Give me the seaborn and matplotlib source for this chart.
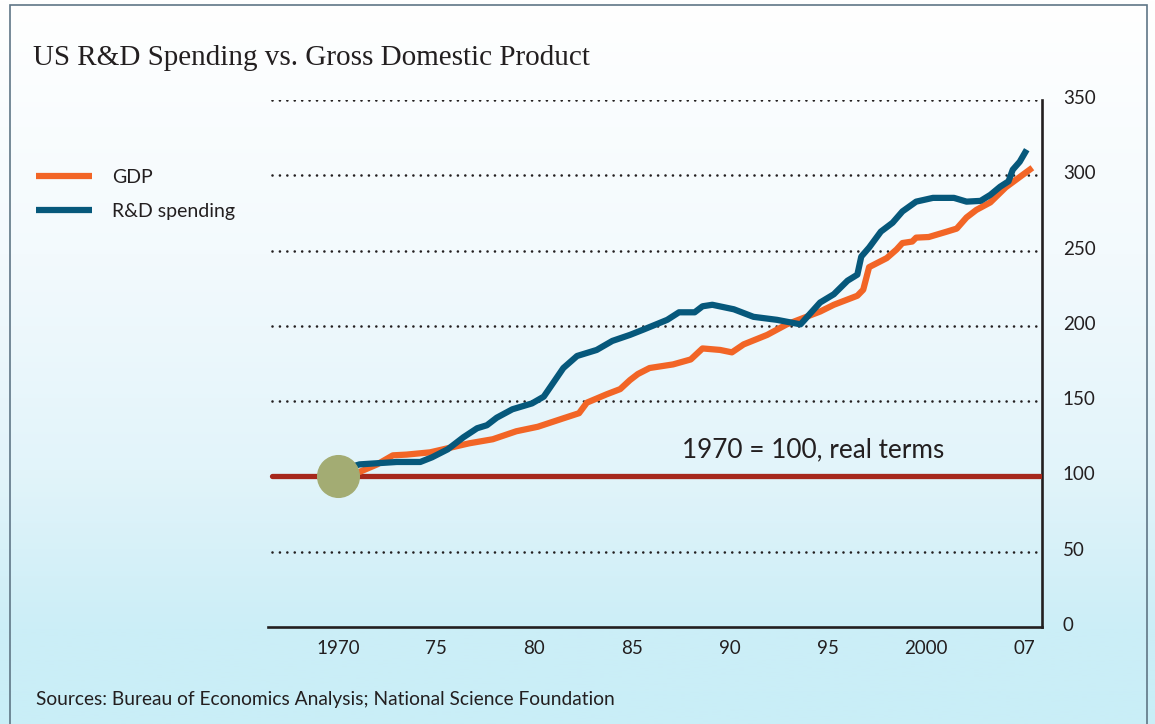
import matplotlib
matplotlib.use("Agg")
import matplotlib.pyplot as plt
import matplotlib.transforms as mtransforms
from matplotlib.colors import LinearSegmentedColormap
from matplotlib.patches import Rectangle
import seaborn as sns
import numpy as np
import pandas as pd

# --- data (index, 1970 = 100, real terms) ---
gdp_years = [1970.0, 1970.6, 1971.1, 1972.0, 1972.8, 1973.5, 1974.7, 1975.7, 1976.7, 1977.9,
             1979.1, 1980.2, 1981.5, 1982.3, 1982.7, 1983.7, 1984.4, 1984.9, 1985.3, 1985.9,
             1987.1, 1988.0, 1988.6, 1989.5, 1990.1, 1990.7, 1991.9, 1992.9, 1993.9, 1994.6,
             1995.3, 1996.0, 1996.5, 1996.8, 1997.1, 1998.0, 1998.5, 1998.8, 1999.3, 1999.5,
             2000.2, 2001.5, 2002.2, 2002.9, 2003.6, 2004.6, 2005.7, 2007.6]
gdp_values = [100, 100.5, 103, 108, 114, 114.5, 116, 119, 122, 124.7,
              130, 133, 138.6, 142, 149, 154.5, 158, 164, 168, 172,
              174.4, 177.7, 185, 184, 182.4, 187.7, 194, 201, 206, 209.5,
              214, 217.5, 220, 224, 239, 245, 250.7, 255, 256, 258.6,
              259, 262.6, 264.6, 272, 277, 282, 292, 305]

rd_years = [1970.0, 1970.6, 1971.1, 1973.0, 1974.2, 1974.8, 1975.6, 1976.4, 1977.1, 1977.6,
            1978.1, 1978.9, 1979.9, 1980.5, 1981.5, 1982.2, 1983.2, 1984.0, 1984.9, 1985.6,
            1986.8, 1987.4, 1988.2, 1988.6, 1989.1, 1990.2, 1991.2, 1992.4, 1993.6, 1994.6,
            1995.3, 1996.0, 1996.5, 1996.7, 1997.1, 1997.7, 1998.3, 1998.8, 1999.5, 2000.5,
            2002.0, 2002.9, 2003.9, 2004.6, 2005.3, 2005.9, 2006.2, 2006.7, 2007.2]
rd_values = [100, 106, 108, 109.6, 109.6, 112.7, 118, 126, 132, 134,
             139, 144.6, 148.5, 153, 172, 180, 184, 190, 194, 197.6,
             204, 209, 209, 213, 214, 211, 206, 204, 201, 215.5,
             221, 230, 234, 246, 252, 262.6, 268.5, 276, 282.5, 285,
             285, 282.5, 283, 287, 292.4, 296, 303.7, 309, 317]

tick_years = [1970, 1975, 1980, 1985, 1990, 1995, 2000, 2007]
tick_labels = ["1970", "75", "80", "85", "90", "95", "2000", "07"]
y_ticks = [0, 50, 100, 150, 200, 250, 300, 350]

base_year, base_value = 1970, 100

gdp = pd.DataFrame({"year": gdp_years, "value": gdp_values})
rd = pd.DataFrame({"year": rd_years, "value": rd_values})

ORANGE = "#f26526"
BLUE = "#06587b"
RED = "#a5271b"
OLIVE = "#a3ac73"
INK = "#231f20"

sns.set_theme(style="white")
plt.rcParams["font.family"] = ["Lato", "DejaVu Sans"]

fig = plt.figure(figsize=(11.55, 7.24), dpi=100)

# background gradient + frame
bg = fig.add_axes([0, 0, 1, 1], zorder=-10)
cmap = LinearSegmentedColormap.from_list(
    "bg", [(0, "#ffffff"), (0.35, "#f3fafd"), (0.65, "#e2f4fa"), (0.87, "#cceef7"), (1, "#c9eef7")])
bg.imshow(np.linspace(0, 1, 256).reshape(-1, 1), aspect="auto", cmap=cmap,
          extent=[0, 1, 0, 1], origin="upper")
bg.set_axis_off()
fig.add_artist(Rectangle((10 / 1155, -0.05), 1137 / 1155, 1.05 - 5 / 724,
                         transform=fig.transFigure, fill=False, ec="#5f7686", lw=1.2))

ax = fig.add_axes([268 / 1155, 97 / 724, 774 / 1155, 527 / 724])
ax.patch.set_alpha(0)

sns.lineplot(data=gdp, x="year", y="value", ax=ax, color=ORANGE, lw=4.5,
             label="GDP", solid_capstyle="butt", solid_joinstyle="round", zorder=4)
sns.lineplot(data=rd, x="year", y="value", ax=ax, color=BLUE, lw=4.5,
             label="R&D spending", solid_capstyle="butt", solid_joinstyle="round", zorder=5)


# after 2000 the published axis squeezes 2000-07 into one five-year step
def fwd(x):
    x = np.asarray(x, dtype=float)
    return np.where(x <= 2000, x, 2000 + (x - 2000) * 5 / 7)


def inv(p):
    p = np.asarray(p, dtype=float)
    return np.where(p <= 2000, p, 2000 + (p - 2000) * 7 / 5)


ax.set_xscale("function", functions=(fwd, inv))
ax.set_xlim(1966.43, 2008.29)
ax.set_ylim(0, 350)

# dotted guides and the 1970 baseline
for v in y_ticks[1:]:
    if v == base_value:
        continue
    ax.axhline(v, xmin=0.005, xmax=0.997, color=INK, lw=1.9,
               linestyle=(0, (0.01, 2.8)), dash_capstyle="round", zorder=1)
ax.axhline(base_value, xmin=0.005, xmax=0.997, color=RED, lw=3.8, zorder=3)
ax.plot([base_year], [base_value], "o", ms=30, color=OLIVE, mec=OLIVE, zorder=6)

ax.text(1987.55, 117.5, "1970 = 100, real terms", fontsize=18.8, color=INK,
        ha="left", va="center")

# axes styling
for side in ["top", "left"]:
    ax.spines[side].set_visible(False)
for side in ["bottom", "right"]:
    ax.spines[side].set_color(INK)
    ax.spines[side].set_linewidth(1.9)
ax.yaxis.tick_right()
ax.set_yticks(y_ticks)
ax.set_yticklabels([str(v) for v in y_ticks], fontsize=13.5, color=INK)
ax.set_xticks(tick_years)
ax.set_xticklabels(tick_labels, fontsize=13.5, color=INK)
ax.tick_params(axis="y", length=0, pad=15)
ax.tick_params(axis="x", length=0, pad=9)
ax.set_xlabel("")
ax.set_ylabel("")
ax.grid(False)
shift = mtransforms.ScaledTranslation(0, 0.03, fig.dpi_scale_trans)
for lab in ax.get_yticklabels():
    lab.set_transform(lab.get_transform() + shift)

ax.legend(loc="upper left", bbox_to_anchor=(36 / 1155, 1 - 169 / 724),
          bbox_transform=fig.transFigure, frameon=False, fontsize=14,
          handlelength=2.9, handletextpad=1.0, labelspacing=0.85,
          borderpad=0, borderaxespad=0, labelcolor=INK)

fig.text(33 / 1155, 1 - 65 / 724, "US R&D Spending vs. Gross Domestic Product",
         fontsize=21, family=["Liberation Serif", "DejaVu Serif"], color=INK,
         ha="left", va="baseline")
fig.text(36 / 1155, 1 - 705 / 724,
         "Sources: Bureau of Economics Analysis; National Science Foundation",
         fontsize=13.8, color=INK, ha="left", va="baseline")

fig.savefig("out.png", dpi=100)
